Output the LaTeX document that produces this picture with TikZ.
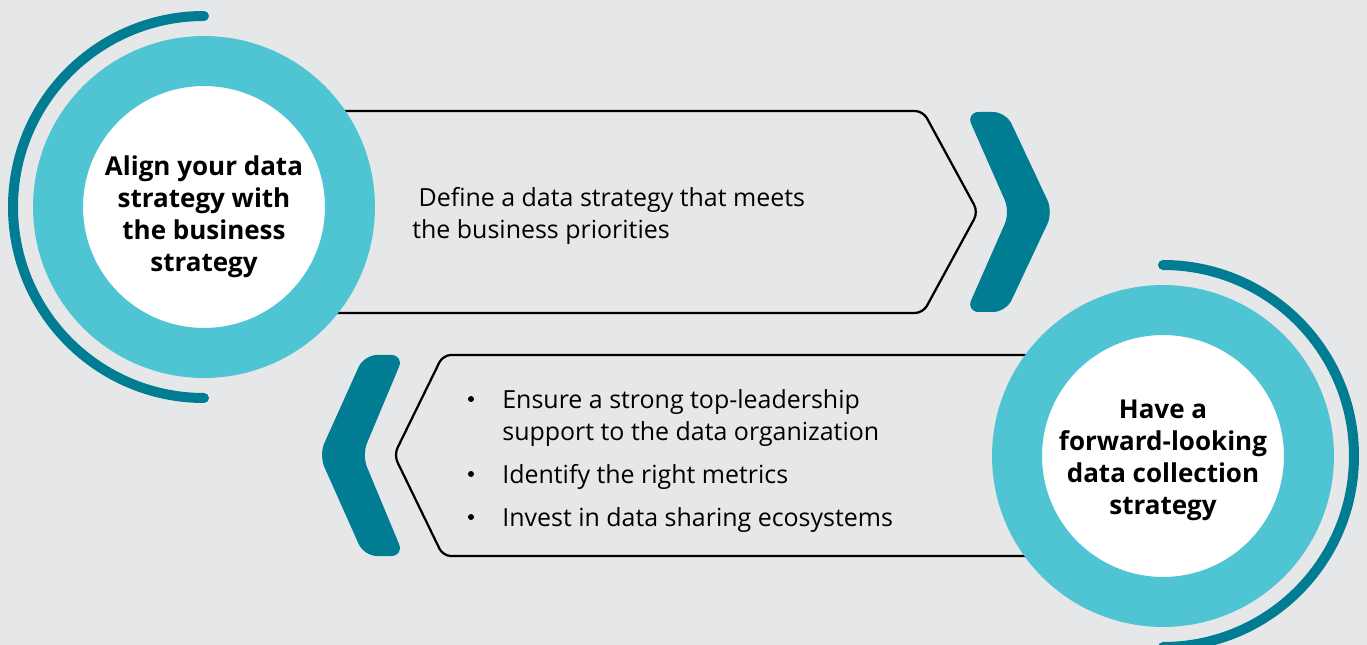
\documentclass[tikz,border=0pt]{standalone}
\usepackage{fontspec}
\setmainfont{Open Sans}
\usepackage{tikz}
\usetikzlibrary{positioning}

\definecolor{bgcol}{HTML}{E6E7E9}
\definecolor{ringcyan}{HTML}{4FC4D2}
\definecolor{darkteal}{HTML}{007D93}

\tikzset{
  ring/.style={circle, fill=white, draw=ringcyan, line width=1cm,
    minimum size=5.84cm, inner sep=0pt},
  circletext/.style={align=center, inner sep=0pt,
    font=\fontsize{14.8pt}{18.2pt}\selectfont\bfseries},
  outerarc/.style={draw=darkteal, line width=0.2cm, line cap=round},
  boxline/.style={draw=black, line width=0.045cm, rounded corners=0.16cm},
  chevron/.style={fill=darkteal, rounded corners=0.26cm},
  bodytext/.style={anchor=west, align=left, inner sep=0pt,
    font=\fontsize{14.2pt}{18.2pt}\selectfont},
}

\begin{document}
\begin{tikzpicture}[x=0.02cm, y=-0.02cm]
			\fill[bgcol] (0,0) rectangle (1367,645);
			\useasboundingbox (0,0) rectangle (1367,645);
			% upper box and chevron
			\draw[boxline] (250,111) -- (923,111) -- (978,212) -- (923,313) -- (250,313);
			\fill[chevron] (966,112) -- (1006,112) -- (1053,212) -- (1006,312) -- (966,312) -- (1010,212) -- cycle;
			% lower box and chevron
			\draw[boxline] (1100,355) -- (443,355) -- (394,455) -- (443,556) -- (1100,556);
			\fill[chevron] (404,355) -- (364,355) -- (319,455) -- (364,556) -- (404,556) -- (362,455) -- cycle;
			% circles
			\node[ring] (align) at (204,207) {};
			\node[circletext] (aligntext) at ([yshift=-0.2cm]align.center) {Align your data\\strategy with\\the business\\strategy};
			\draw[outerarc] (204,398) arc[start angle=90, end angle=270, radius=191];
			\node[ring] (collect) at (1163,456) {};
			\node[circletext] (collecttext) at ([yshift=-0.08cm]collect.center) {Have a\\forward-looking\\data collection\\strategy};
			\draw[outerarc] (1163,265) arc[start angle=-90, end angle=90, radius=191];
			% texts
			\node[bodytext] (define) at (412,216) {\hspace{0.25em}Define a data strategy that meets\\the business priorities};
			\node[bodytext] (ensure) at (502,418) {Ensure a strong top-leadership\\support to the data organization};
			\node[bodytext] (metrics) at (502,477) {Identify the right metrics};
			\node[bodytext] (invest) at (502,520) {Invest in data sharing ecosystems};
			\foreach \by in {399,474,517}
				\fill (471,\by) circle[radius=3];
		\end{tikzpicture}
\end{document}
